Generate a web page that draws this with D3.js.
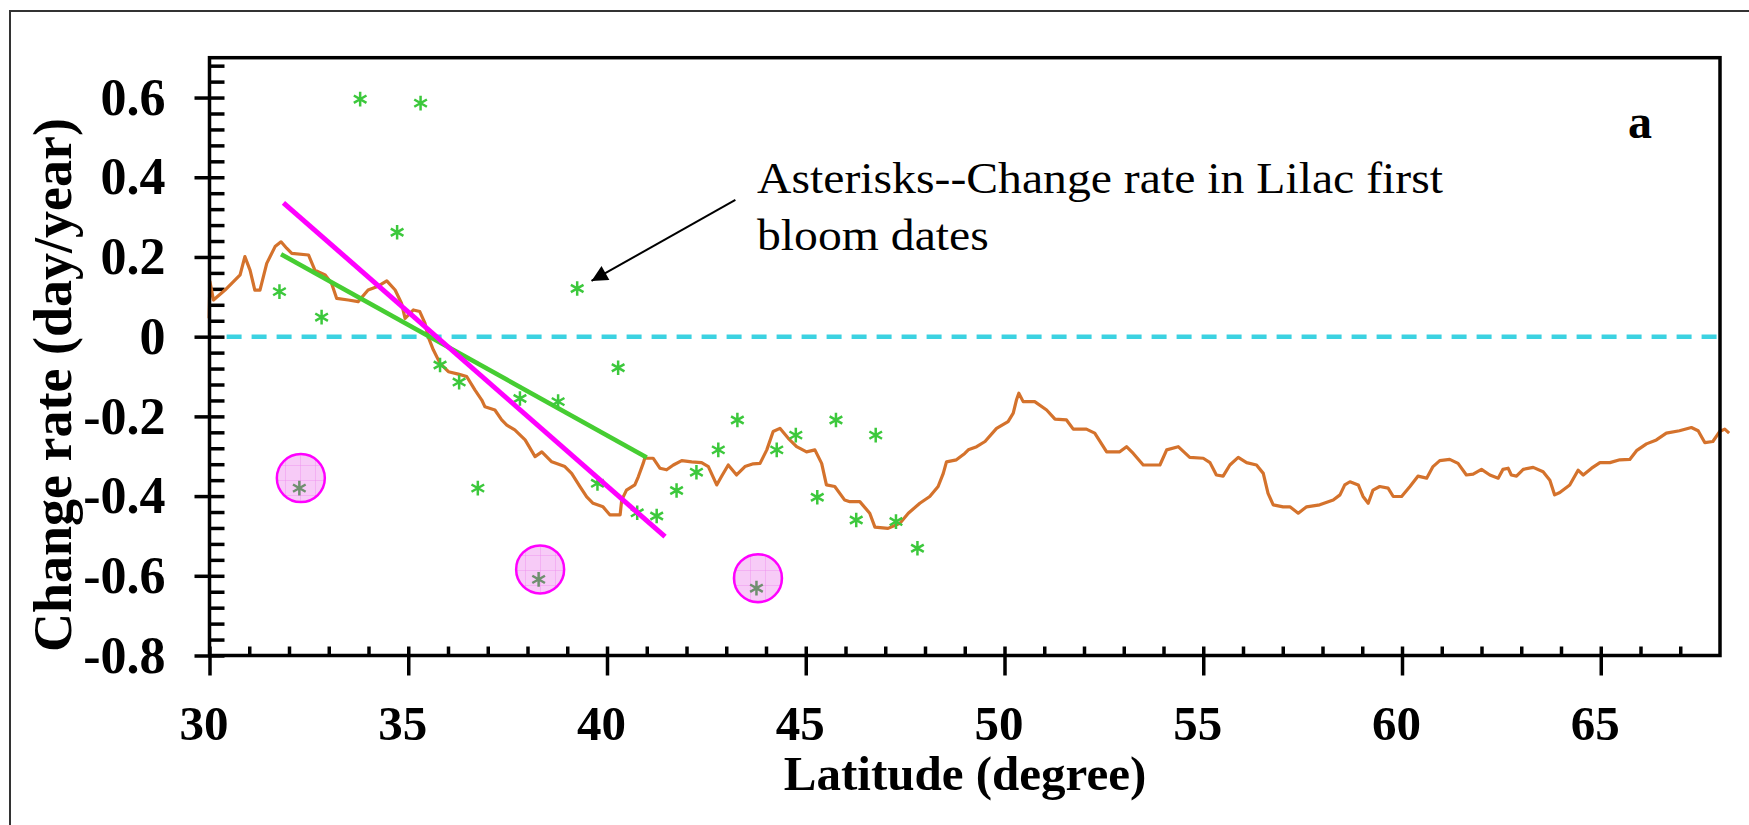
<!DOCTYPE html>
<html>
<head>
<meta charset="utf-8">
<script src="https://cdn.jsdelivr.net/npm/d3@7"></script>
<style>
    body { margin: 0; background: #ffffff; }
    #chart { width: 1749px; height: 825px; }
    text { font-family: "Liberation Serif", "Times New Roman", serif; }
</style>
</head>
<body>
<div id="chart"></div>
<script>
// axis ticks
const latitude_ticks = [30, 35, 40, 45, 50, 55, 60, 65];
const rate_ticks = [-0.8, -0.6, -0.4, -0.2, 0, 0.2, 0.4, 0.6];

// asterisks: change rate in lilac first bloom dates
const bloom_lat = [31.76, 32.82, 33.79, 34.72, 35.31, 35.80, 36.28, 36.75, 37.81, 38.77, 39.25, 39.76, 40.28, 40.76,
                   41.25, 41.75, 42.25, 42.80, 43.28, 44.27, 44.75, 45.29, 45.76, 46.27, 46.76, 47.27, 47.81];
const bloom_rate = [0.113, 0.049, 0.596, 0.262, 0.586, -0.071, -0.114, -0.380, -0.155, -0.163, 0.121, -0.368, -0.078, -0.442,
                    -0.450, -0.386, -0.340, -0.284, -0.209, -0.284, -0.247, -0.403, -0.209, -0.460, -0.247, -0.464, -0.531];

// circled outliers
const circled_lat = [32.26, 38.28, 43.76];
const circled_rate = [-0.380, -0.609, -0.631];

// orange curve
const smooth_lat = [29.99, 30.01, 30.10, 30.39, 30.64, 30.77, 30.89, 31.02, 31.14, 31.27, 31.44, 31.65, 31.80, 31.94, 32.07,
    32.49, 32.65, 32.91, 33.07, 33.20, 33.49, 33.74, 33.99, 34.21, 34.46, 34.67, 34.83, 34.92, 35.13, 35.29, 35.42, 35.50,
    35.63, 35.80, 36.01, 36.26, 36.47, 36.68, 36.85, 36.93, 37.18, 37.35, 37.48, 37.68, 37.94, 38.19, 38.36, 38.61, 38.94,
    39.11, 39.32, 39.49, 39.65, 39.90, 40.07, 40.33, 40.37, 40.49, 40.70, 40.79, 40.91, 40.95, 41.16, 41.33, 41.50, 41.67,
    41.88, 42.13, 42.38, 42.55, 42.76, 42.88, 43.05, 43.26, 43.47, 43.68, 43.85, 44.02, 44.18, 44.35, 44.56, 44.77, 45.02,
    45.23, 45.40, 45.52, 45.73, 45.98, 46.11, 46.36, 46.61, 46.74, 47.07, 47.37, 47.58, 47.87, 48.12, 48.33, 48.46, 48.54,
    48.79, 49.00, 49.09, 49.30, 49.51, 49.80, 50.09, 50.22, 50.30, 50.36, 50.47, 50.76, 51.06, 51.27, 51.56, 51.73, 52.06,
    52.27, 52.57, 52.90, 53.07, 53.24, 53.49, 53.91, 54.08, 54.37, 54.66, 55.00, 55.17, 55.33, 55.50, 55.67, 55.88, 56.09,
    56.34, 56.51, 56.63, 56.76, 57.01, 57.18, 57.39, 57.60, 57.93, 58.27, 58.44, 58.56, 58.69, 58.90, 59.02, 59.15, 59.27,
    59.44, 59.65, 59.78, 59.99, 60.20, 60.40, 60.62, 60.78, 60.95, 61.20, 61.41, 61.62, 61.79, 62.00, 62.21, 62.42, 62.54,
    62.67, 62.75, 62.88, 63.05, 63.30, 63.55, 63.72, 63.84, 63.97, 64.22, 64.43, 64.56, 64.77, 64.98, 65.23, 65.48, 65.73,
    65.90, 66.15, 66.40, 66.65, 66.98, 67.28, 67.45, 67.62, 67.82, 67.99, 68.12, 68.23];
const smooth_rate = [0.046, 0.138, 0.092, 0.117, 0.142, 0.155, 0.201, 0.167, 0.117, 0.117, 0.184, 0.226, 0.238, 0.222, 0.209,
    0.205, 0.167, 0.155, 0.134, 0.096, 0.092, 0.088, 0.117, 0.125, 0.140, 0.117, 0.084, 0.046, 0.067, 0.063, 0.034, 0.000,
    -0.033, -0.067, -0.088, -0.094, -0.100, -0.134, -0.159, -0.176, -0.184, -0.209, -0.222, -0.234, -0.259, -0.301, -0.289, -0.314, -0.326,
    -0.343, -0.376, -0.402, -0.418, -0.427, -0.447, -0.447, -0.410, -0.385, -0.372, -0.351, -0.318, -0.305, -0.305, -0.330, -0.334, -0.322,
    -0.311, -0.314, -0.316, -0.326, -0.372, -0.351, -0.322, -0.347, -0.326, -0.319, -0.318, -0.284, -0.238, -0.230, -0.255, -0.276, -0.289,
    -0.284, -0.318, -0.372, -0.376, -0.410, -0.414, -0.414, -0.443, -0.478, -0.481, -0.468, -0.443, -0.418, -0.401, -0.376, -0.343, -0.314,
    -0.309, -0.293, -0.284, -0.276, -0.263, -0.230, -0.213, -0.192, -0.159, -0.142, -0.163, -0.163, -0.184, -0.207, -0.209, -0.232, -0.232,
    -0.242, -0.289, -0.289, -0.276, -0.293, -0.322, -0.322, -0.284, -0.276, -0.303, -0.305, -0.316, -0.347, -0.350, -0.322, -0.303, -0.316,
    -0.322, -0.343, -0.393, -0.422, -0.427, -0.427, -0.443, -0.427, -0.422, -0.410, -0.397, -0.372, -0.364, -0.372, -0.401, -0.418, -0.385,
    -0.376, -0.380, -0.401, -0.401, -0.376, -0.350, -0.355, -0.326, -0.311, -0.308, -0.318, -0.347, -0.345, -0.333, -0.347, -0.355, -0.333,
    -0.330, -0.347, -0.350, -0.333, -0.328, -0.339, -0.360, -0.397, -0.391, -0.372, -0.335, -0.347, -0.330, -0.316, -0.316, -0.309, -0.308,
    -0.286, -0.269, -0.259, -0.242, -0.236, -0.228, -0.236, -0.266, -0.263, -0.238, -0.232, -0.242];

// green regression line and magenta trend line (end points)
const fit_lat = [31.80, 41.00];
const fit_rate = [0.207, -0.303];
const trend_lat = [31.86, 41.46];
const trend_rate = [0.336, -0.502];

// arrow of the annotation (from, to)
const arrow_lat = [43.23, 39.61];
const arrow_rate = [0.343, 0.140];

const width = 1749, height = 825;
const margin = {left: 209.5, right: 29, top: 57.7, bottom: 169.5};

let svg = d3.select("#chart")
    .append("svg")
    .attr("width", width)
    .attr("height", height);

let x = d3.scaleLinear()
    .domain([30, 68])
    .range([margin.left, width - margin.right]);

let y = d3.scaleLinear()
    .domain([-0.8, 0.7])
    .range([height - margin.bottom, margin.top]);

let defs = svg.append("defs");
defs.append("marker")
    .attr("id", "arrowhead")
    .attr("viewBox", "0 0 10 10")
    .attr("refX", 10)
    .attr("refY", 5)
    .attr("markerWidth", 9)
    .attr("markerHeight", 8)
    .attr("markerUnits", "strokeWidth")
    .attr("orient", "auto")
    .append("path")
    .attr("d", "M0,0 L10,5 L0,10 z")
    .attr("fill", "black");

let grid = defs.append("pattern")
    .attr("id", "pinkgrid")
    .attr("width", 15)
    .attr("height", 15)
    .attr("patternUnits", "userSpaceOnUse");
grid.append("rect")
    .attr("width", 15).attr("height", 15)
    .attr("fill", "#f7cbf7");
grid.append("path")
    .attr("d", "M0,0 H15 M0,0 V15")
    .attr("stroke", "#ee88ee")
    .attr("stroke-width", 0.8);

// outer frame
svg.append("rect")
    .attr("x", 10)
    .attr("y", 11)
    .attr("width", 1800)
    .attr("height", 900)
    .attr("fill", "none")
    .attr("stroke", "#333")
    .attr("stroke-width", 2);

// y axis: major ticks cross the axis, minor ticks point inwards
let minor_rate = d3.range(-20, 18).map(function(i) { return i * 0.04; })
    .filter(function(d) { return Math.abs(d * 5 - Math.round(d * 5)) > 1e-6; });

let y_minor = svg.append("g")
    .attr("transform", "translate(" + margin.left + ",0)")
    .call(d3.axisLeft(y).tickValues(minor_rate).tickSize(-15).tickFormat(""));
y_minor.select(".domain").remove();

let y_axis = svg.append("g")
    .attr("transform", "translate(" + margin.left + ",0)")
    .call(d3.axisLeft(y).tickValues(rate_ticks).tickSize(15).tickPadding(29)
        .tickFormat(function(d) { return d === 0 ? "0" : d.toFixed(1); }));
y_axis.select(".domain").remove();
y_axis.selectAll("line").attr("x1", 15);
y_axis.selectAll("text")
    .style("font-size", "52px")
    .style("font-weight", "bold")
    .attr("fill", "black");

// x axis
let x_minor = svg.append("g")
    .attr("transform", "translate(0," + (height - margin.bottom) + ")")
    .call(d3.axisBottom(x).tickValues(d3.range(31, 68).filter(function(d) { return d % 5 !== 0; }))
        .tickSize(-9).tickFormat(""));
x_minor.select(".domain").remove();

let x_axis = svg.append("g")
    .attr("transform", "translate(0," + (height - margin.bottom) + ")")
    .call(d3.axisBottom(x).tickValues(latitude_ticks).tickSize(20));
x_axis.select(".domain").remove();
x_axis.selectAll("line").attr("y1", -9);
x_axis.selectAll("text")
    .attr("y", 84.5)
    .attr("dy", null)
    .attr("dx", -6)
    .style("font-size", "49px")
    .style("font-weight", "bold")
    .attr("fill", "black");

svg.selectAll(".tick line")
    .attr("stroke", "black")
    .attr("stroke-width", 3.5);

// zero line
svg.append("line")
    .attr("x1", x(30.43))
    .attr("x2", x(68))
    .attr("y1", y(0))
    .attr("y2", y(0))
    .attr("stroke", "#3cd2e1")
    .attr("stroke-width", 4.5)
    .attr("stroke-dasharray", "15,10");

// orange curve
let smooth_data = smooth_lat.map(function(d, i) { return [d, smooth_rate[i]]; });
svg.append("path")
    .datum(smooth_data)
    .attr("fill", "none")
    .attr("stroke", "#d4722c")
    .attr("stroke-width", 3.2)
    .attr("stroke-linejoin", "round")
    .attr("d", d3.line()
        .x(function(d) { return x(d[0]); })
        .y(function(d) { return y(d[1]); }));

// green fit
svg.append("line")
    .attr("x1", x(fit_lat[0]))
    .attr("y1", y(fit_rate[0]))
    .attr("x2", x(fit_lat[1]))
    .attr("y2", y(fit_rate[1]))
    .attr("stroke", "#46cd32")
    .attr("stroke-width", 4.5);

// asterisks
let star = d3.symbol().type(d3.symbolAsterisk).size(150);
svg.selectAll(".bloom")
    .data(bloom_lat.map(function(d, i) { return [d, bloom_rate[i]]; }))
    .enter()
    .append("path")
    .attr("class", "bloom")
    .attr("transform", function(d) { return "translate(" + x(d[0]) + "," + y(d[1]) + ")"; })
    .attr("d", star)
    .attr("fill", "none")
    .attr("stroke", "#3cc83c")
    .attr("stroke-width", 2.5);

// magenta trend line
svg.append("line")
    .attr("x1", x(trend_lat[0]))
    .attr("y1", y(trend_rate[0]))
    .attr("x2", x(trend_lat[1]))
    .attr("y2", y(trend_rate[1]))
    .attr("stroke", "#ff00ff")
    .attr("stroke-width", 5);

// circled outliers
let circled = circled_lat.map(function(d, i) { return [d, circled_rate[i]]; });
svg.selectAll(".outlier")
    .data(circled)
    .enter()
    .append("circle")
    .attr("class", "outlier")
    .attr("cx", function(d) { return x(d[0]) + 1.5; })
    .attr("cy", function(d) { return y(d[1]) - 10; })
    .attr("r", 24)
    .attr("fill", "url(#pinkgrid)")
    .attr("stroke", "#ff00ff")
    .attr("stroke-width", 2.5);

svg.selectAll(".outlier_star")
    .data(circled)
    .enter()
    .append("path")
    .attr("class", "outlier_star")
    .attr("transform", function(d) { return "translate(" + x(d[0]) + "," + y(d[1]) + ")"; })
    .attr("d", star)
    .attr("fill", "none")
    .attr("stroke", "#6f8f6f")
    .attr("stroke-width", 2.5);

// plot frame
svg.append("rect")
    .attr("x", margin.left)
    .attr("y", y(0.7))
    .attr("width", x(68) - margin.left)
    .attr("height", y(-0.8) - y(0.7))
    .attr("fill", "none")
    .attr("stroke", "black")
    .attr("stroke-width", 3.5);

// annotation
svg.append("line")
    .attr("x1", x(arrow_lat[0]))
    .attr("y1", y(arrow_rate[0]))
    .attr("x2", x(arrow_lat[1]))
    .attr("y2", y(arrow_rate[1]))
    .attr("stroke", "black")
    .attr("stroke-width", 2)
    .attr("marker-end", "url(#arrowhead)");

let note = svg.append("text")
    .attr("transform", "translate(757,193) scale(1.06,1)")
    .style("font-size", "45px")
    .attr("fill", "black");
note.append("tspan").attr("x", 0).attr("y", 0).text("Asterisks--Change rate in Lilac first");
note.append("tspan").attr("x", 0).attr("y", 57).text("bloom dates");

svg.append("text")
    .attr("x", 1640)
    .attr("y", 138)
    .attr("text-anchor", "middle")
    .style("font-size", "48px")
    .style("font-weight", "bold")
    .text("a");

// axis titles
svg.append("text")
    .attr("transform", "translate(71,385) rotate(-90)")
    .attr("text-anchor", "middle")
    .style("font-size", "54px")
    .style("font-weight", "bold")
    .text("Change rate (day/year)");

svg.append("text")
    .attr("x", 965)
    .attr("y", 790)
    .attr("text-anchor", "middle")
    .style("font-size", "49px")
    .style("font-weight", "bold")
    .text("Latitude (degree)");
</script>
</body>
</html>
